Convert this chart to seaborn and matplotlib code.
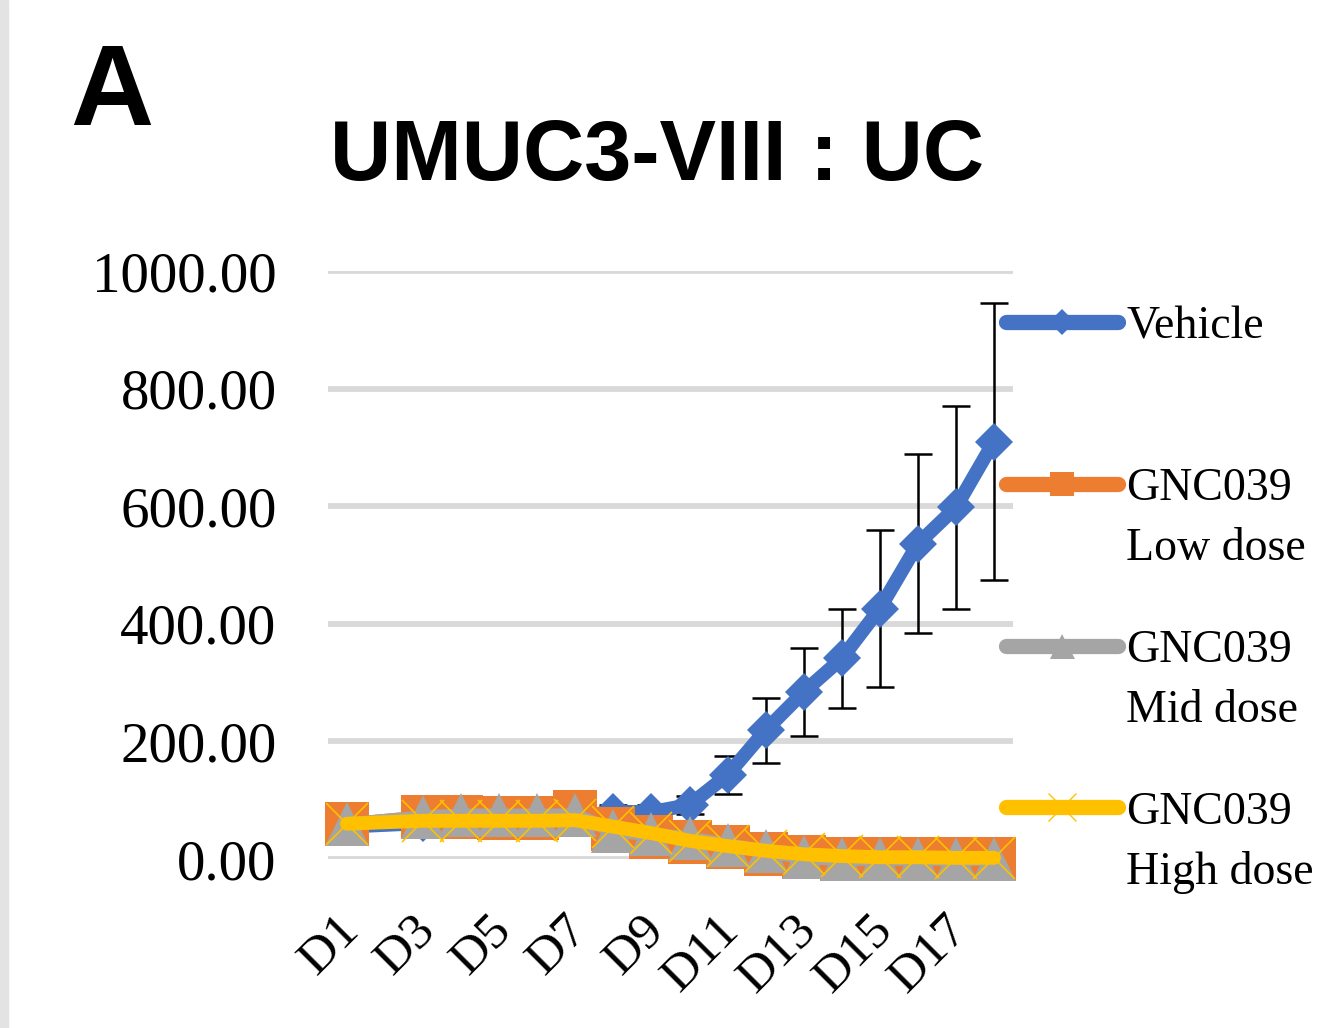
import numpy as np
import pandas as pd
import matplotlib
matplotlib.use("Agg")
import matplotlib.pyplot as plt
import seaborn as sns
from matplotlib.lines import Line2D
from matplotlib.patches import Rectangle
from matplotlib.transforms import ScaledTranslation

# ---------------- data ----------------
days = ["D1", "D2", "D3", "D4", "D5", "D6", "D7", "D8", "D9",
        "D10", "D11", "D12", "D13", "D14", "D15", "D16", "D17", "D18"]
tick_labels = ["D1", "D3", "D5", "D7", "D9", "D11", "D13", "D15", "D17"]
nan = np.nan
vehicle = [55, nan, 61, 66, 68, 70, 72, 80, 80, 92, 143, 219, 284, 341, 426, 536, 598, 710]
vehicle_sd = [8, nan, 8, 9, 10, 10, 11, 12, 12, 15, 33, 55, 74, 84, 134, 152, 172, 235]
low_dose = [59, nan, 71, 71, 70, 70, 80, 51, 37, 29, 21, 8, 3, 0, 0, 0, 0, 0]
mid_dose = [59, nan, 71, 74, 74, 74, 74, 48, 42, 35, 24, 13, 3, 0, 0, 0, 0, 0]
high_dose = [60, nan, 65, 65, 65, 65, 66, 55, 44, 31, 22, 14, 8, 5, 3, 3, 2, 2]
legend_line1 = ["Vehicle", "GNC039", "GNC039", "GNC039"]
legend_line2 = ["", "Low dose", "Mid dose", "High dose"]
y_ticks = [0, 200, 400, 600, 800, 1000]

colors = ["#4472C4", "#ED7D31", "#A5A5A5", "#FFC000"]

sns.set_style("white")
plt.rcParams["font.family"] = ["Liberation Serif", "DejaVu Serif"]
plt.rcParams["text.color"] = "black"
plt.rcParams["xtick.color"] = "black"
plt.rcParams["ytick.color"] = "black"
plt.rcParams["axes.labelcolor"] = "black"

W, H = 1333, 1028
fig = plt.figure(figsize=(W / 100, H / 100), dpi=100)
fig.patches.append(Rectangle((0, 0), 8 / W, 1, transform=fig.transFigure,
                             color="#E3E3E3", zorder=0))
ax = fig.add_axes([328 / W, 169 / H, 685 / W, 588 / H])

x_pos = np.arange(len(days))
df = pd.DataFrame({"x": x_pos, "Vehicle": vehicle, "sd": vehicle_sd,
                   "Low": low_dose, "Mid": mid_dose, "High": high_dose})

# error bars (behind markers)
ax.errorbar(df["x"], df["Vehicle"], yerr=df["sd"], fmt="none", ecolor="black",
            elinewidth=1.8, capsize=10, capthick=1.8, zorder=2, clip_on=False)

specs = [
    ("Vehicle", colors[0], "D", 19, 0),
    ("Low", colors[1], "s", 31, 0),
    ("Mid", colors[2], "^", 32, 0),
    ("High", colors[3], "x", 30, 1.2),
]
for i, (col, c, m, ms, mew) in enumerate(specs):
    sns.lineplot(data=df, x="x", y=col, color=c, marker=m, markersize=ms,
                 markeredgecolor=c, markeredgewidth=mew,
                 linewidth=10, ax=ax, legend=False, errorbar=None, zorder=3 + i)
for ln in ax.lines:
    ln.set_clip_on(False)
    ln.set_solid_capstyle("round")

ax.set_xlim(-0.5, len(days) - 0.5)
ax.set_ylim(0, 1000)
ax.set_yticks(y_ticks)
ax.set_yticklabels([f"{v:.2f}" for v in y_ticks], fontsize=41)
ax.set_xticks(x_pos[::2])
ax.set_xticklabels(tick_labels, fontsize=37, rotation=45, ha="right",
                   rotation_mode="anchor", va="center")
ax.tick_params(axis="y", length=0, pad=37)
ax.tick_params(axis="x", length=0, pad=46)
for lab in ax.get_xticklabels():
    lab.set_transform(lab.get_transform() + ScaledTranslation(5 / 100, 0, fig.dpi_scale_trans))
ax.set_xlabel("")
ax.set_ylabel("")
for s in ax.spines.values():
    s.set_visible(False)
ax.grid(axis="y", color="#D9D9D9", linewidth=4.2)
ax.grid(axis="x", visible=False)
ax.set_axisbelow(True)

# titles
fig.text(70 / W, 1 - 125 / H, "A", fontsize=83, fontweight="bold",
         family=["Liberation Sans", "DejaVu Sans"], ha="left", va="baseline",
         color="black")
fig.text(657 / W, 1 - 180 / H, "UMUC3-VIII : UC", fontsize=61, fontweight="bold",
         family=["Liberation Sans Narrow", "Liberation Sans", "DejaVu Sans"],
         ha="center", va="baseline", color="black")

# legend
handles = [
    Line2D([], [], color=colors[0], lw=11, marker="D", markersize=13, markeredgewidth=0),
    Line2D([], [], color=colors[1], lw=11, marker="s", markersize=17, markeredgewidth=0),
    Line2D([], [], color=colors[2], lw=11, marker="^", markersize=18, markeredgewidth=0),
    Line2D([], [], color=colors[3], lw=11, marker="x", markersize=20, markeredgewidth=1.0,
           markeredgecolor=colors[3]),
]
leg = fig.legend(handles, legend_line1, loc="upper left",
                 bbox_to_anchor=(1006 / W, 1 - 306 / H), frameon=False,
                 fontsize=33, handlelength=2.45, handletextpad=0.17,
                 labelspacing=2.6, borderpad=0, borderaxespad=0)
for t in leg.get_texts():
    t.set_color("black")
fig.canvas.draw()
for txt, second in zip(leg.get_texts(), legend_line2):
    if not second:
        continue
    bb = txt.get_window_extent()
    fig.text(bb.x0 / W, (bb.y1 - 60) / H, second, fontsize=33,
             ha="left", va="top", color="black")

fig.savefig("out.png", dpi=100)
